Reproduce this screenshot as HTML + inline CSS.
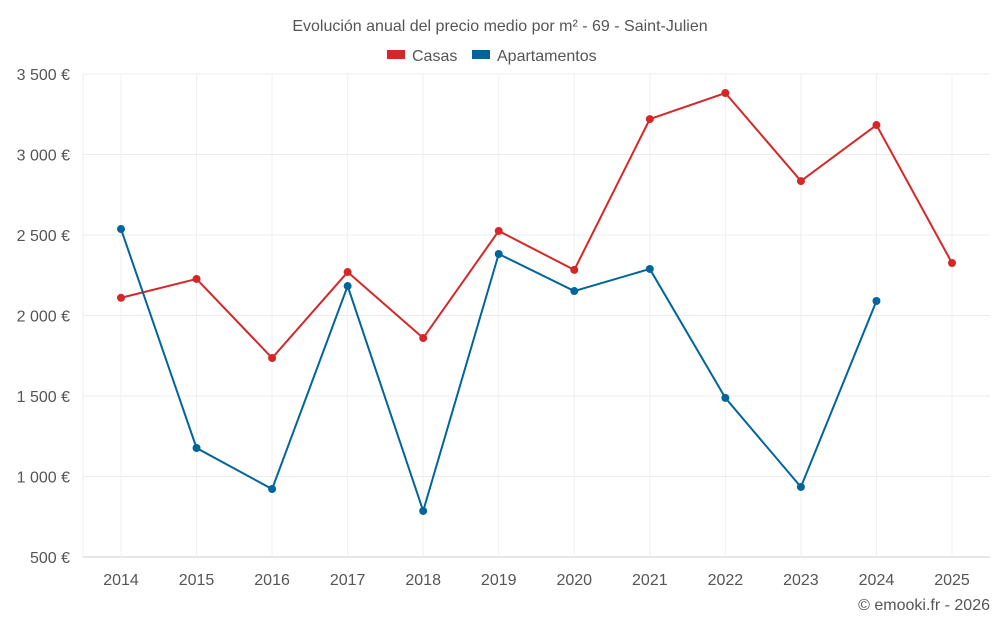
<!DOCTYPE html>
<html><head><meta charset="utf-8"><style>
body{margin:0;background:#fff;font-family:"Liberation Sans",sans-serif}
svg text{font-family:"Liberation Sans",sans-serif}
</style></head><body>
<svg id="c" width="1000" height="625">
<text x="500" y="31" text-anchor="middle" font-size="16" fill="#555">Evolución anual del precio medio por m² - 69 - Saint-Julien</text>
<g>
<g><rect x="387" y="50" width="18" height="9" fill="#d62728"/><text x="412" y="61" font-size="16" fill="#555">Casas</text></g>
<g><rect x="472" y="50" width="18" height="9" fill="#00659a"/><text x="497" y="61" font-size="16" fill="#555">Apartamentos</text></g>
</g>
<g id="grid"></g><g id="axes"></g><g id="series"></g>
<text x="990" y="610" text-anchor="end" font-size="16" fill="#555">© emooki.fr - 2026</text>
</svg>
<script>
const years=[2014,2015,2016,2017,2018,2019,2020,2021,2022,2023,2024,2025];
const casas=[2110,2227,1736,2270,1860,2525,2283,3220,3382,2835,3183,2326];
const apartamentos=[2537,1177,922,2183,786,2382,2152,2289,1488,935,2090,null];
const yTicks=[500,1000,1500,2000,2500,3000,3500];
const yLabels=["500 €","1 000 €","1 500 €","2 000 €","2 500 €","3 000 €","3 500 €"];
const NS="http://www.w3.org/2000/svg";
const L=83,R=990,T=74,B=557;
const x=i=>121+i*(952-121)/(years.length-1);
const y=v=>B-(v-500)/3000*(B-T);
function mk(t,a,p){const e=document.createElementNS(NS,t);for(const k in a)e.setAttribute(k,a[k]);p.appendChild(e);return e;}
const g=document.getElementById('grid'),ax=document.getElementById('axes'),s=document.getElementById('series');
yTicks.forEach((v,i)=>{
 const ln=mk('line',{x1:L,x2:R,y1:y(v),y2:y(v),stroke:i==0?'#ccc':'#ececec'},g);
 
 
 const t=mk('text',{x:70,y:y(v)+6,'text-anchor':'end','font-size':16,fill:'#555'},ax);t.textContent=yLabels[i];
 
 
});
mk('line',{x1:L,x2:L,y1:T,y2:B,stroke:'#ececec'},g);
years.forEach((yr,i)=>{
 const ln=mk('line',{x1:x(i),x2:x(i),y1:T,y2:B,stroke:'#f0f0f0'},g);
 
 
 const t=mk('text',{x:x(i),y:585,'text-anchor':'middle','font-size':16,fill:'#555'},ax);t.textContent=yr;
 
 
});
function draw(vals,col,name){
 let d='';vals.forEach((v,i)=>{if(v==null)return;d+=(d?'L':'M')+x(i)+','+y(v);});
 const p=mk('path',{d:d,fill:'none',stroke:col,'stroke-width':2},s);
 
 
 vals.forEach((v,i)=>{if(v==null)return;
  const c=mk('circle',{cx:x(i),cy:y(v),r:4,fill:col},s);
  
  
 });
}
draw(casas,'#d62728','casas');
draw(apartamentos,'#00659a','apartamentos');
</script>
</body></html>
